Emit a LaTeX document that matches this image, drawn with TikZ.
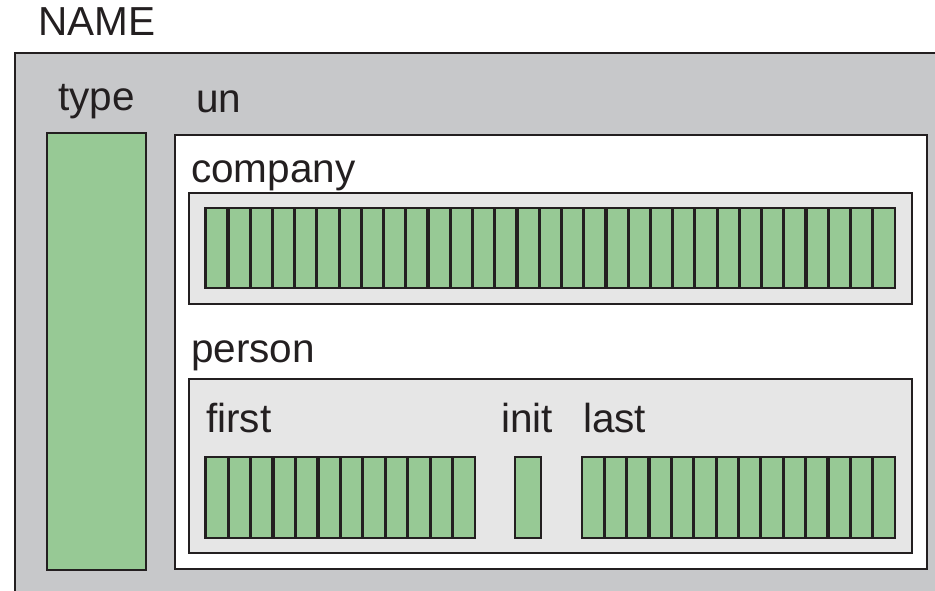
\documentclass[tikz,border=0pt]{standalone}
\usepackage{fontspec}
\setmainfont{Liberation Sans}
\definecolor{outergray}{HTML}{C7C8CA}
\definecolor{innergray}{HTML}{E6E6E6}
\definecolor{cellgreen}{HTML}{97C995}
\definecolor{ink}{HTML}{231F20}
\tikzset{
  box/.style={draw=ink, line width=2.8pt},
  lbl/.style={anchor=base west, inner sep=0pt, text=ink, font=\fontsize{40.5}{48}\selectfont},
}
\newcommand{\cellrow}[5]{% x0, x1, y0, y1, n (n >= 2)
  \fill[cellgreen] (#1,#3) rectangle (#2,#4);
  \pgfmathsetmacro{\cw}{(#2-#1)/#5}
  \foreach \k in {1,...,\numexpr#5-1\relax}{
    \draw[ink, line width=3.2pt] ({#1+\k*\cw},#3) -- ({#1+\k*\cw},#4);
  }
  \draw[box] (#1,#3) rectangle (#2,#4);
}
\begin{document}
\begin{tikzpicture}[x=1pt,y=-1pt]
\clip (0,0) rectangle (935,590);
\fill[white] (0,0) rectangle (935,590);
% outer box
\draw[box, fill=outergray] (15,53) rectangle (950,610);
% type box
\draw[box, fill=cellgreen] (47,133) rectangle (146,570);
% union box
\draw[box, fill=white] (175,135) rectangle (927,569);
% company
\draw[box, fill=innergray] (189,193) rectangle (912,304);
\cellrow{205.7}{895}{208}{288}{31}
% person
\draw[box, fill=innergray] (189,379) rectangle (912,553);
\cellrow{205.7}{475}{457}{538}{12}
\draw[box, fill=cellgreen] (515,457) rectangle (541,538);
\cellrow{582}{895}{457}{538}{14}
% labels
\node[lbl] (name) at (38,35) {NAME};
\node[lbl] (type) at (58,110) {type};
\node[lbl] (un) at (196,112) {un};
\node[lbl] (company) at (191,182) {company};
\node[lbl] (person) at (191,362) {person};
\node[lbl] (first) at (206,432) {first};
\node[lbl] (init) at (501,432) {init};
\node[lbl] (last) at (583,432) {last};
\end{tikzpicture}
\end{document}
